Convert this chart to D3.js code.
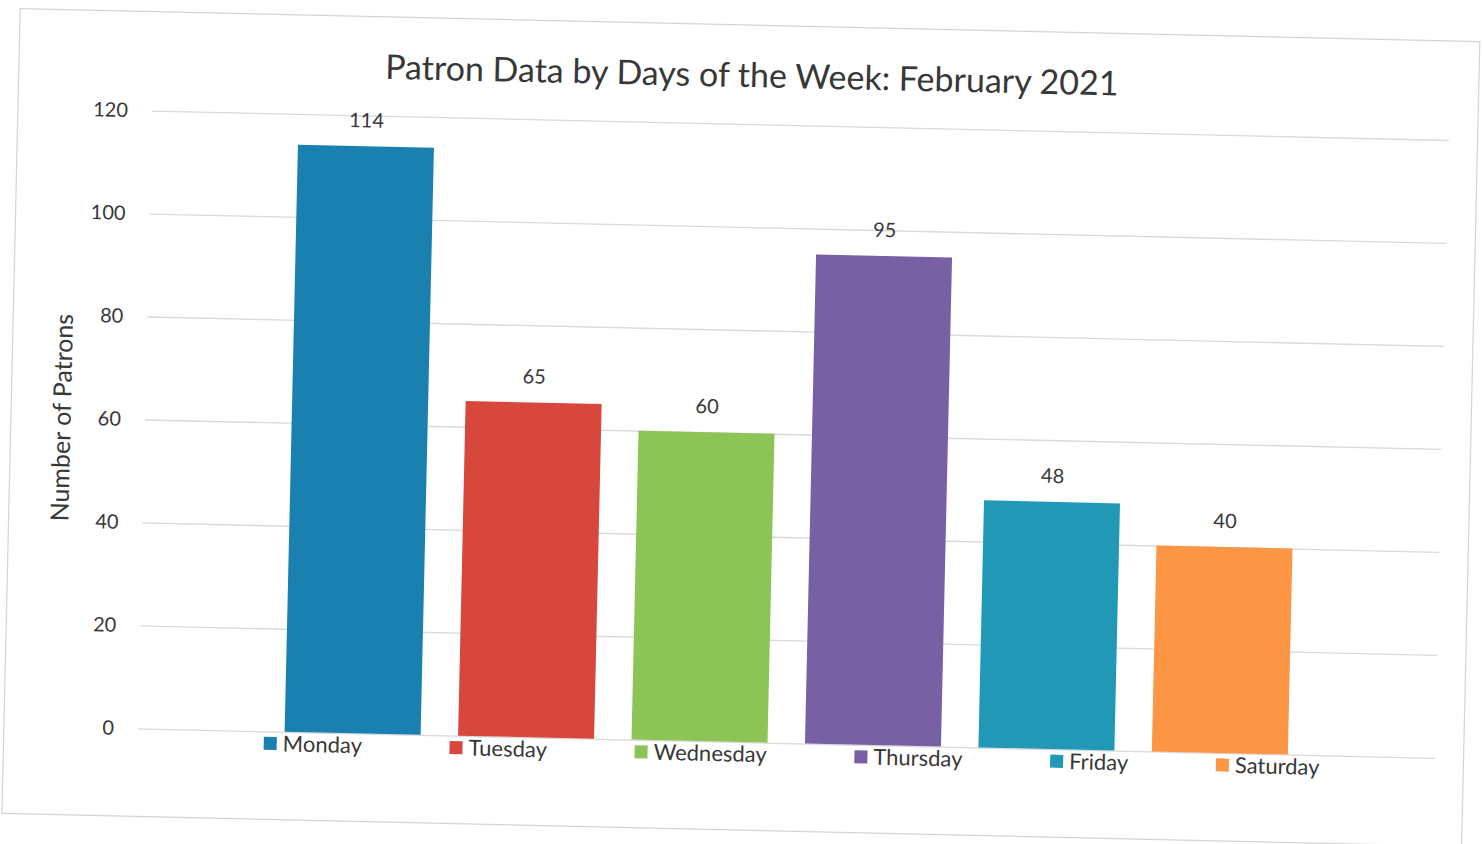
<!DOCTYPE html>
<html>
<head>
<meta charset="utf-8">
<script src="https://cdn.jsdelivr.net/npm/d3@7"></script>
<style>
  body { margin: 0; background: #fff; }
  text { font-family: Lato, "Open Sans", sans-serif; fill: #383838; }
</style>
</head>
<body>
<div id="chart"></div>
<script>
// chart data
var days = ["Monday", "Tuesday", "Wednesday", "Thursday", "Friday", "Saturday"];
var patrons = [114, 65, 60, 95, 48, 40];
var dayColors = ["#1a80b0", "#d8473c", "#8cc455", "#7760a4", "#2198b6", "#fc9645"];
var yTicks = [0, 20, 40, 60, 80, 100, 120];

var svgWidth = 1483;
var svgHeight = 844;

var margin = { top: 124, right: 41, bottom: 102, left: 145 };
var chartWidth = svgWidth - margin.left - margin.right;
var chartHeight = svgHeight - margin.top - margin.bottom;

var svg = d3.select("#chart")
  .append("svg")
  .attr("width", svgWidth)
  .attr("height", svgHeight);

// the scanned page is slightly tilted
var page = svg.append("g")
  .attr("transform", "rotate(1.3, 741, 422)");

page.append("rect")
  .attr("x", 11)
  .attr("y", 25)
  .attr("width", 1460)
  .attr("height", 805)
  .attr("fill", "#fff")
  .attr("stroke", "#d4d4d4")
  .attr("stroke-width", 1.2);

page.append("text")
  .attr("x", 744)
  .attr("y", 87)
  .attr("text-anchor", "middle")
  .style("font-size", "34px")
  .text("Patron Data by Days of the Week: February 2021");

var chartGroup = page.append("g")
  .attr("transform", `translate(${margin.left}, ${margin.top})`);

var yScale = d3.scaleLinear()
  .domain([0, 120])
  .range([chartHeight, 0]);

var xScale = d3.scaleBand()
  .domain(days)
  .range([0, chartWidth])
  .paddingInner(0.216)
  .paddingOuter(0.846);

// gridlines + tick labels
var leftAxis = d3.axisLeft(yScale)
  .tickValues(yTicks)
  .tickSize(-chartWidth)
  .tickPadding(24);

var yAxis = chartGroup.append("g").call(leftAxis);
yAxis.select(".domain").remove();
yAxis.selectAll("line").attr("stroke", "#d9d9d9").attr("stroke-width", 1.3);
yAxis.selectAll("text")
  .style("font-size", "20px")
  .style("font-family", "Lato, sans-serif")
  .attr("fill", "#383838");

chartGroup.append("text")
  .attr("transform", "rotate(-90)")
  .attr("x", -chartHeight / 2)
  .attr("y", 62 - margin.left)
  .attr("dy", "0.35em")
  .attr("text-anchor", "middle")
  .style("font-size", "25px")
  .text("Number of Patrons");

chartGroup.selectAll(".bar")
  .data(patrons)
  .enter()
  .append("rect")
  .attr("class", "bar")
  .attr("x", (d, i) => xScale(days[i]))
  .attr("y", d => yScale(d))
  .attr("width", xScale.bandwidth())
  .attr("height", d => chartHeight - yScale(d))
  .attr("fill", (d, i) => dayColors[i]);

chartGroup.selectAll(".value")
  .data(patrons)
  .enter()
  .append("text")
  .attr("class", "value")
  .attr("x", (d, i) => xScale(days[i]) + xScale.bandwidth() / 2)
  .attr("y", d => yScale(d) - 19)
  .attr("text-anchor", "middle")
  .style("font-size", "20px")
  .text(d => d);

// legend: items in a row, equal gaps, centred under the plot
var legend = chartGroup.append("g")
  .attr("transform", `translate(6, ${chartHeight + 12})`);

var items = legend.selectAll(".item")
  .data(days)
  .enter()
  .append("g")
  .attr("class", "item");

items.append("rect")
  .attr("x", 0)
  .attr("y", -6.5)
  .attr("width", 13)
  .attr("height", 13)
  .attr("fill", (d, i) => dayColors[i]);

items.append("text")
  .attr("x", 19)
  .attr("dy", "0.35em")
  .style("font-size", "22px")
  .text(d => d);

var gap = 87;
var widths = [];
items.each(function() { widths.push(this.getBBox().width); });
var total = d3.sum(widths) + gap * (widths.length - 1);
var pos = chartWidth / 2 - total / 2;
items.attr("transform", function(d, i) {
  var x = pos;
  pos += widths[i] + gap;
  return `translate(${x}, 0)`;
});
</script>
</body>
</html>
